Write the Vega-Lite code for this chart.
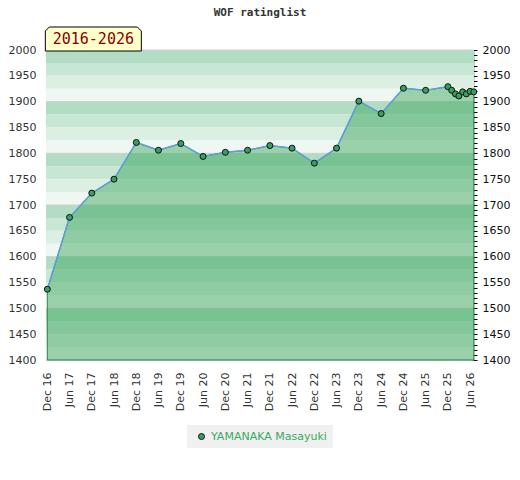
{
  "$schema": "https://vega.github.io/schema/vega-lite/v6.json",
  "description": "WOF rating history of YAMANAKA Masayuki, 2016-2026, on a banded green background.",
  "autosize": "none",
  "padding": {"left": 46, "top": 50, "right": 46, "bottom": 120},
  "width": 428,
  "height": 310,
  "title": {
    "text": "WOF ratinglist",
    "font": "DejaVu Sans Mono",
    "fontSize": 11,
    "fontWeight": "bold",
    "color": "#333333",
    "offset": 7
  },
  "data": {
    "values": [
      {"date": "2016-12-01T00:00:00", "rating": 1537, "player": "YAMANAKA Masayuki"},
      {"date": "2017-06-01T00:00:00", "rating": 1676, "player": "YAMANAKA Masayuki"},
      {"date": "2017-12-01T00:00:00", "rating": 1723, "player": "YAMANAKA Masayuki"},
      {"date": "2018-06-01T00:00:00", "rating": 1750, "player": "YAMANAKA Masayuki"},
      {"date": "2018-12-01T00:00:00", "rating": 1821, "player": "YAMANAKA Masayuki"},
      {"date": "2019-06-01T00:00:00", "rating": 1806, "player": "YAMANAKA Masayuki"},
      {"date": "2019-12-01T00:00:00", "rating": 1819, "player": "YAMANAKA Masayuki"},
      {"date": "2020-06-01T00:00:00", "rating": 1794, "player": "YAMANAKA Masayuki"},
      {"date": "2020-12-01T00:00:00", "rating": 1802, "player": "YAMANAKA Masayuki"},
      {"date": "2021-06-01T00:00:00", "rating": 1806, "player": "YAMANAKA Masayuki"},
      {"date": "2021-12-01T00:00:00", "rating": 1815, "player": "YAMANAKA Masayuki"},
      {"date": "2022-06-01T00:00:00", "rating": 1810, "player": "YAMANAKA Masayuki"},
      {"date": "2022-12-01T00:00:00", "rating": 1781, "player": "YAMANAKA Masayuki"},
      {"date": "2023-06-01T00:00:00", "rating": 1810, "player": "YAMANAKA Masayuki"},
      {"date": "2023-12-01T00:00:00", "rating": 1901, "player": "YAMANAKA Masayuki"},
      {"date": "2024-06-01T00:00:00", "rating": 1877, "player": "YAMANAKA Masayuki"},
      {"date": "2024-12-01T00:00:00", "rating": 1926, "player": "YAMANAKA Masayuki"},
      {"date": "2025-06-01T00:00:00", "rating": 1922, "player": "YAMANAKA Masayuki"},
      {"date": "2025-12-01T00:00:00", "rating": 1929, "player": "YAMANAKA Masayuki"},
      {"date": "2026-01-01T00:00:00", "rating": 1922, "player": "YAMANAKA Masayuki"},
      {"date": "2026-02-01T00:00:00", "rating": 1915, "player": "YAMANAKA Masayuki"},
      {"date": "2026-03-01T00:00:00", "rating": 1911, "player": "YAMANAKA Masayuki"},
      {"date": "2026-04-01T00:00:00", "rating": 1919, "player": "YAMANAKA Masayuki"},
      {"date": "2026-05-01T00:00:00", "rating": 1915, "player": "YAMANAKA Masayuki"},
      {"date": "2026-06-01T00:00:00", "rating": 1920, "player": "YAMANAKA Masayuki"},
      {"date": "2026-07-01T00:00:00", "rating": 1919, "player": "YAMANAKA Masayuki"}
    ]
  },
  "resolve": {"axis": {"y": "independent"}, "scale": {"color": "independent"}},
  "layer": [
    {
      "data": {
        "values": [
          {"lo": 1975, "hi": 2000, "shade": "a"}, {"lo": 1950, "hi": 1975, "shade": "b"},
          {"lo": 1925, "hi": 1950, "shade": "c"}, {"lo": 1900, "hi": 1925, "shade": "d"},
          {"lo": 1875, "hi": 1900, "shade": "a"}, {"lo": 1850, "hi": 1875, "shade": "b"},
          {"lo": 1825, "hi": 1850, "shade": "c"}, {"lo": 1800, "hi": 1825, "shade": "d"},
          {"lo": 1775, "hi": 1800, "shade": "a"}, {"lo": 1750, "hi": 1775, "shade": "b"},
          {"lo": 1725, "hi": 1750, "shade": "c"}, {"lo": 1700, "hi": 1725, "shade": "d"},
          {"lo": 1675, "hi": 1700, "shade": "a"}, {"lo": 1650, "hi": 1675, "shade": "b"},
          {"lo": 1625, "hi": 1650, "shade": "c"}, {"lo": 1600, "hi": 1625, "shade": "d"},
          {"lo": 1575, "hi": 1600, "shade": "a"}, {"lo": 1550, "hi": 1575, "shade": "b"},
          {"lo": 1525, "hi": 1550, "shade": "c"}, {"lo": 1500, "hi": 1525, "shade": "d"},
          {"lo": 1475, "hi": 1500, "shade": "a"}, {"lo": 1450, "hi": 1475, "shade": "b"},
          {"lo": 1425, "hi": 1450, "shade": "c"}, {"lo": 1400, "hi": 1425, "shade": "d"}
        ]
      },
      "mark": {"type": "rect"},
      "encoding": {
        "y": {
          "field": "lo",
          "type": "quantitative",
          "scale": {"domain": [1400, 2000], "nice": false, "zero": false},
          "axis": {
            "orient": "left",
            "title": null,
            "values": [1400, 1450, 1500, 1550, 1600, 1650, 1700, 1750, 1800, 1850, 1900, 1950, 2000],
            "tickCount": 100,
            "format": "d",
            "ticks": false,
            "domain": false,
            "grid": false,
            "labelPadding": 10,
            "labelColor": "#333333",
            "labelFont": "DejaVu Sans",
            "labelFontSize": 11
          }
        },
        "y2": {"field": "hi"},
        "fill": {
          "field": "shade",
          "type": "nominal",
          "scale": {"domain": ["a", "b", "c", "d"], "range": ["#b2dcc4", "#c7e6d4", "#dbefe3", "#eef7f1"]},
          "legend": null
        }
      }
    },
    {
      "data": {"values": [{"v": 1400}, {"v": 1500}, {"v": 1600}, {"v": 1700}, {"v": 1800}, {"v": 1900}, {"v": 2000}]},
      "mark": {"type": "rule", "color": "#cfcfcf", "strokeWidth": 1},
      "encoding": {
        "y": {"field": "v", "type": "quantitative", "axis": null}
      }
    },
    {
      "mark": {"type": "area", "color": "#32a156", "fillOpacity": 0.45, "stroke": "#2d8a4e", "strokeWidth": 1},
      "encoding": {
        "x": {
          "field": "date",
          "type": "temporal",
          "scale": {"domain": [{"year": 2016, "month": 11, "date": 20}, {"year": 2026, "month": 7, "date": 3}]},
          "axis": {
            "title": null,
            "values": [
              {"year": 2016, "month": 12, "date": 1}, {"year": 2017, "month": 6, "date": 1},
              {"year": 2017, "month": 12, "date": 1}, {"year": 2018, "month": 6, "date": 1},
              {"year": 2018, "month": 12, "date": 1}, {"year": 2019, "month": 6, "date": 1},
              {"year": 2019, "month": 12, "date": 1}, {"year": 2020, "month": 6, "date": 1},
              {"year": 2020, "month": 12, "date": 1}, {"year": 2021, "month": 6, "date": 1},
              {"year": 2021, "month": 12, "date": 1}, {"year": 2022, "month": 6, "date": 1},
              {"year": 2022, "month": 12, "date": 1}, {"year": 2023, "month": 6, "date": 1},
              {"year": 2023, "month": 12, "date": 1}, {"year": 2024, "month": 6, "date": 1},
              {"year": 2024, "month": 12, "date": 1}, {"year": 2025, "month": 6, "date": 1},
              {"year": 2025, "month": 12, "date": 1}, {"year": 2026, "month": 6, "date": 1}
            ],
            "tickCount": 40,
            "format": "%b %y",
            "labelAngle": -90,
            "labelOverlap": false,
            "ticks": false,
            "domain": false,
            "grid": false,
            "labelPadding": 12,
            "labelColor": "#333333",
            "labelFont": "DejaVu Sans",
            "labelFontSize": 11
          }
        },
        "y": {
          "field": "rating",
          "type": "quantitative",
          "axis": {
            "orient": "right",
            "title": null,
            "values": [1400, 1410, 1420, 1430, 1440, 1450, 1460, 1470, 1480, 1490,
                       1500, 1510, 1520, 1530, 1540, 1550, 1560, 1570, 1580, 1590,
                       1600, 1610, 1620, 1630, 1640, 1650, 1660, 1670, 1680, 1690,
                       1700, 1710, 1720, 1730, 1740, 1750, 1760, 1770, 1780, 1790,
                       1800, 1810, 1820, 1830, 1840, 1850, 1860, 1870, 1880, 1890,
                       1900, 1910, 1920, 1930, 1940, 1950, 1960, 1970, 1980, 1990, 2000],
            "tickCount": 100,
            "format": "d",
            "labelExpr": "datum.value % 50 === 0 ? datum.label : ''",
            "labelOverlap": false,
            "offset": -2,
            "tickSize": 5,
            "tickColor": "#000000",
            "domain": false,
            "grid": false,
            "labelPadding": 5,
            "labelColor": "#111111",
            "labelFont": "DejaVu Sans",
            "labelFontSize": 11
          }
        },
        "y2": {"datum": 1400}
      }
    },
    {
      "mark": {"type": "line", "color": "#5ba0d8", "strokeWidth": 1.5},
      "encoding": {
        "x": {"field": "date", "type": "temporal"},
        "y": {"field": "rating", "type": "quantitative", "axis": null}
      }
    },
    {
      "mark": {"type": "point", "filled": true, "opacity": 1, "size": 36, "stroke": "#111111", "strokeWidth": 1},
      "encoding": {
        "x": {"field": "date", "type": "temporal"},
        "y": {"field": "rating", "type": "quantitative", "axis": null},
        "color": {
          "field": "player",
          "type": "nominal",
          "scale": {"range": ["#35a060"]},
          "legend": {
            "title": null,
            "orient": "bottom",
            "offset": 14,
            "fillColor": "#f0f0f0",
            "padding": 6,
            "symbolType": "circle",
            "symbolSize": 36,
            "symbolStrokeColor": "#111111",
            "symbolStrokeWidth": 1,
            "symbolOffset": 3,
            "labelColor": "#3aa862",
            "labelFont": "DejaVu Sans",
            "labelFontSize": 11
          }
        }
      }
    },
    {
      "data": {"values": [{"label": "2016-2026", "date": "2016-12-01T00:00:00", "rating": 2000}]},
      "mark": {
        "type": "point",
        "shape": "M-2,1L-2,-19L2,-23L90,-23L94,-19L94,1Z",
        "size": 4,
        "filled": true,
        "opacity": 1,
        "fill": "#ffffcc",
        "stroke": "#000000",
        "strokeWidth": 1
      },
      "encoding": {
        "x": {"field": "date", "type": "temporal"},
        "y": {"field": "rating", "type": "quantitative", "axis": null}
      }
    },
    {
      "data": {"values": [{"label": "2016-2026", "date": "2016-12-01T00:00:00", "rating": 2000}]},
      "mark": {
        "type": "text",
        "font": "DejaVu Sans Mono",
        "fontSize": 15,
        "color": "#8b0000",
        "align": "center",
        "baseline": "middle",
        "dx": 46,
        "dy": -11
      },
      "encoding": {
        "x": {"field": "date", "type": "temporal"},
        "y": {"field": "rating", "type": "quantitative", "axis": null},
        "text": {"field": "label"}
      }
    }
  ],
  "config": {
    "view": {"stroke": "#cccccc", "strokeWidth": 1},
    "background": "#ffffff",
    "axisX": {"labelOverlap": false},
    "legend": {"layout": {"bottom": {"anchor": "middle"}}}
  }
}
